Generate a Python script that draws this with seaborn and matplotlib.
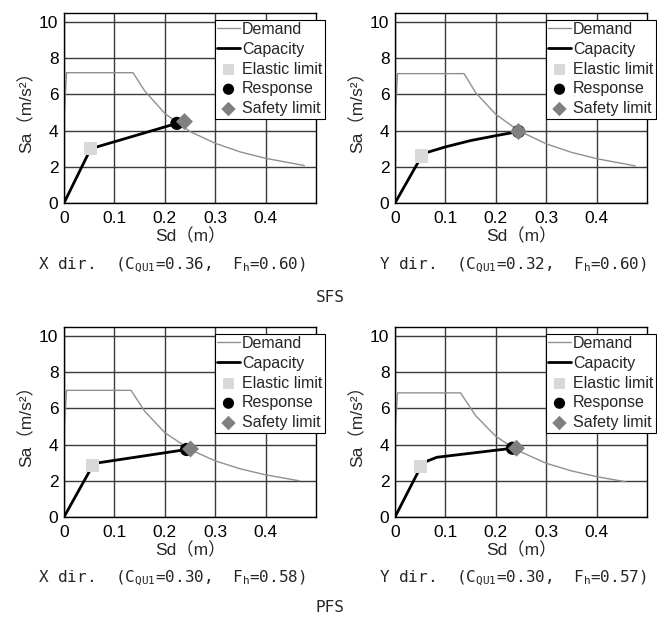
import numpy as np
import pandas as pd
import seaborn as sns
import matplotlib.pyplot as plt

# Demand spectra (Sd, Sa)
dem_sd_xs = [0.0, 0.005, 0.137, 0.16, 0.2, 0.25, 0.3, 0.35, 0.4, 0.477]
dem_sa_xs = [4.6, 7.2, 7.2, 6.2, 4.95, 3.95, 3.3, 2.82, 2.47, 2.07]
dem_sd_ys = [0.0, 0.005, 0.137, 0.16, 0.2, 0.245, 0.3, 0.35, 0.4, 0.477]
dem_sa_ys = [4.6, 7.15, 7.15, 6.1, 4.9, 4.0, 3.27, 2.8, 2.45, 2.05]
dem_sd_xp = [0.0, 0.005, 0.133, 0.16, 0.2, 0.25, 0.3, 0.35, 0.4, 0.467]
dem_sa_xp = [4.6, 7.0, 7.0, 5.85, 4.66, 3.73, 3.1, 2.66, 2.33, 2.0]
dem_sd_yp = [0.0, 0.005, 0.13, 0.16, 0.2, 0.24, 0.3, 0.35, 0.4, 0.457]
dem_sa_yp = [4.6, 6.86, 6.86, 5.6, 4.46, 3.72, 2.97, 2.55, 2.23, 1.95]

# Capacity curves
cap_sd_xs = [0.0, 0.053, 0.224]
cap_sa_xs = [0.0, 3.0, 4.4]
cap_sd_ys = [0.0, 0.053, 0.063, 0.1, 0.15, 0.2, 0.245]
cap_sa_ys = [0.0, 2.6, 2.79, 3.1, 3.45, 3.72, 3.95]
cap_sd_xp = [0.0, 0.057, 0.067, 0.243]
cap_sa_xp = [0.0, 2.85, 2.99, 3.73]
cap_sd_yp = [0.0, 0.051, 0.063, 0.083, 0.233]
cap_sa_yp = [0.0, 2.77, 3.08, 3.3, 3.8]

# Points: elastic limit, response, safety limit
elastic = [(0.053, 3.0), (0.053, 2.6), (0.057, 2.85), (0.051, 2.77)]
response = [(0.224, 4.4), (0.245, 3.95), (0.243, 3.73), (0.233, 3.8)]
safety = [(0.239, 4.5), (0.245, 3.95), (0.251, 3.76), (0.241, 3.8)]

captions = ['X dir.  (C$_{\\mathrm{QU1}}$=0.36,  F$_{\\mathrm{h}}$=0.60)',
            'Y dir.  (C$_{\\mathrm{QU1}}$=0.32,  F$_{\\mathrm{h}}$=0.60)',
            'X dir.  (C$_{\\mathrm{QU1}}$=0.30,  F$_{\\mathrm{h}}$=0.58)',
            'Y dir.  (C$_{\\mathrm{QU1}}$=0.30,  F$_{\\mathrm{h}}$=0.57)']
groups = ['SFS', 'PFS']

demands = [(dem_sd_xs, dem_sa_xs), (dem_sd_ys, dem_sa_ys),
           (dem_sd_xp, dem_sa_xp), (dem_sd_yp, dem_sa_yp)]
capacities = [(cap_sd_xs, cap_sa_xs), (cap_sd_ys, cap_sa_ys),
              (cap_sd_xp, cap_sa_xp), (cap_sd_yp, cap_sa_yp)]

sns.set_style('whitegrid')
plt.rcParams['font.family'] = ['Liberation Sans', 'Noto Sans CJK JP', 'DejaVu Sans']
plt.rcParams['mathtext.fontset'] = 'custom'
plt.rcParams['mathtext.rm'] = 'DejaVu Sans Mono'

fig = plt.figure(figsize=(6.57, 6.19), dpi=100)
W, H = 657, 619
# axes boxes in pixels: left, top, right, bottom
boxes = [(64, 13, 316, 203), (395, 13, 647, 203),
         (64, 327, 316, 517), (395, 327, 647, 517)]
cap_pos = [(172, 265), (513, 265), (172, 578), (513, 578)]

for i, (l, t, r, b) in enumerate(boxes):
    ax = fig.add_axes([l / W, 1 - b / H, (r - l) / W, (b - t) / H])
    sd, sa = demands[i]
    sns.lineplot(x=sd, y=sa, ax=ax, color='#909090', lw=1.0, sort=False,
                 estimator=None, label='Demand')
    sd, sa = capacities[i]
    sns.lineplot(x=sd, y=sa, ax=ax, color='black', lw=2, sort=False,
                 estimator=None, label='Capacity')
    sns.scatterplot(x=[elastic[i][0]], y=[elastic[i][1]], ax=ax, marker='s',
                    s=90, color='#d9d9d9', edgecolor='none', label='Elastic limit', zorder=5)
    sns.scatterplot(x=[response[i][0]], y=[response[i][1]], ax=ax, marker='o',
                    s=90, color='black', edgecolor='none', label='Response', zorder=6)
    sns.scatterplot(x=[safety[i][0]], y=[safety[i][1]], ax=ax, marker='D',
                    s=75, color='#808080', edgecolor='none', label='Safety limit', zorder=7)
    ax.set_xlim(0, 0.5)
    ax.set_ylim(0, 10.5)
    ax.set_xticks([0, 0.1, 0.2, 0.3, 0.4])
    ax.set_xticklabels(['0', '0.1', '0.2', '0.3', '0.4'])
    ax.set_yticks([0, 2, 4, 6, 8, 10])
    ax.grid(True, color='#3a3a3a', lw=1)
    for sp in ax.spines.values():
        sp.set_color('black')
        sp.set_linewidth(1)
    ax.tick_params(axis='x', labelsize=12.5, pad=6, length=0, colors='black')
    ax.tick_params(axis='y', labelsize=12.5, pad=4, length=0, colors='black')
    ax.set_xlabel('Sd（m）', fontsize=12.5, labelpad=1)
    ax.set_ylabel('Sa（m/s²）', fontsize=12.5, labelpad=3)
    leg = ax.legend(loc='upper right', bbox_to_anchor=(1.035, 0.965), fontsize=11.5,
                    frameon=True, fancybox=False, framealpha=1, edgecolor='black',
                    borderpad=0.15, labelspacing=0.3, handlelength=1.4,
                    handletextpad=0.15, borderaxespad=0, markerscale=0.85)
    leg.get_frame().set_linewidth(0.8)
    fig.text(cap_pos[i][0] / W, 1 - cap_pos[i][1] / H, captions[i],
             ha='center', va='center', fontsize=11.5, family='DejaVu Sans Mono')

fig.text(330 / W, 1 - 297 / H, groups[0], ha='center', va='center',
         fontsize=11.5, family='DejaVu Sans Mono')
fig.text(330 / W, 1 - 608 / H, groups[1], ha='center', va='center',
         fontsize=11.5, family='DejaVu Sans Mono')

fig.savefig('out.png', dpi=100)
